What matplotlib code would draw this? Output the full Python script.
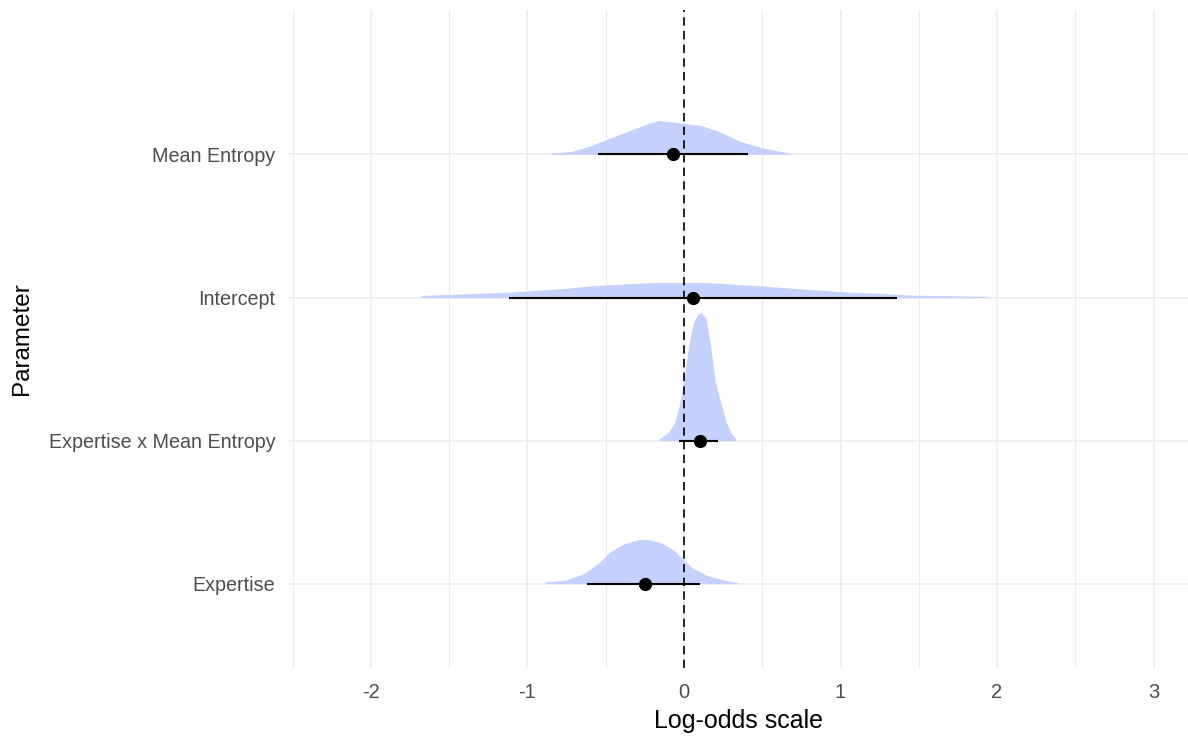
import matplotlib.pyplot as plt
import numpy as np

plt.rcParams['font.family'] = ['Liberation Sans', 'DejaVu Sans']

# parameter rows, bottom to top
params = ['Expertise', 'Expertise x Mean Entropy', 'Intercept', 'Mean Entropy']

# posterior median and 95% interval per parameter
medians = [-0.25, 0.10, 0.06, -0.07]
lower = [-0.62, -0.03, -1.12, -0.55]
upper = [0.10, 0.22, 1.36, 0.41]

# density outlines (x on log-odds scale, height in row units)
dens_x = [
    [-0.89, -0.76, -0.64, -0.55, -0.47, -0.38, -0.29, -0.23, -0.15, -0.06, 0.00, 0.06, 0.15, 0.24, 0.34],
    [-0.16, -0.10, -0.06, -0.03, 0.00, 0.03, 0.06, 0.09, 0.11, 0.14, 0.17, 0.20, 0.24, 0.27, 0.30, 0.33],
    [-1.68, -1.30, -1.08, -0.90, -0.75, -0.59, -0.41, -0.19, 0.14, 0.48, 0.69, 0.83, 1.01, 1.22, 1.48, 1.94],
    [-0.85, -0.72, -0.61, -0.48, -0.36, -0.23, -0.16, -0.05, 0.11, 0.24, 0.36, 0.49, 0.62, 0.68],
]
dens_h = [
    [0.012, 0.023, 0.070, 0.140, 0.224, 0.280, 0.308, 0.308, 0.287, 0.231, 0.161, 0.105, 0.056, 0.028, 0.007],
    [0.012, 0.056, 0.126, 0.245, 0.434, 0.664, 0.825, 0.885, 0.895, 0.860, 0.660, 0.406, 0.245, 0.126, 0.056, 0.010],
    [0.014, 0.030, 0.040, 0.054, 0.065, 0.082, 0.093, 0.105, 0.105, 0.082, 0.065, 0.054, 0.040, 0.030, 0.016, 0.008],
    [0.008, 0.021, 0.056, 0.112, 0.161, 0.217, 0.238, 0.224, 0.203, 0.154, 0.091, 0.049, 0.021, 0.007],
]

xticks = [-2, -1, 0, 1, 2, 3]
xtick_labels = ['-2', '-1', '0', '1', '2', '3']

fig = plt.figure(figsize=(11.88, 7.38), dpi=100)
ax = fig.add_axes([288 / 1188, 1 - 668 / 738, 900 / 1188, 658 / 738])

ypos = np.arange(1, len(params) + 1)
for i, y in enumerate(ypos):
    xs = np.array(dens_x[i])
    hs = np.array(dens_h[i])
    ax.fill_between(xs, y, y + hs, color='#C5D1FD', linewidth=0, zorder=2)
    ax.plot([lower[i], upper[i]], [y, y], color='black', lw=1.5, zorder=3, solid_capstyle='butt')
    ax.plot(medians[i], y, 'o', color='black', ms=8.5, zorder=4)

ax.axvline(0, color='black', lw=1.2, ls=(0, (5, 3.2)), zorder=5)

ax.set_xlim(-2.53, 3.22)
ax.set_ylim(0.41, 5.01)
ax.set_xticks(xticks)
ax.set_xticklabels(xtick_labels)
ax.set_xticks(np.arange(-2.5, 3.0, 1.0), minor=True)
ax.set_yticks(ypos)
ax.set_yticklabels(params)

ax.grid(True, which='major', color='#EBEBEB', lw=1.1, zorder=0)
ax.grid(True, which='minor', axis='x', color='#EBEBEB', lw=0.8, zorder=0)
ax.set_axisbelow(True)
for s in ax.spines.values():
    s.set_visible(False)
ax.tick_params(which='both', length=0)
ax.tick_params(axis='x', pad=11, labelsize=14.5, labelcolor='#4D4D4D')
ax.tick_params(axis='y', pad=9, labelsize=14.2, labelcolor='#4D4D4D')

ax.set_xlabel('Log-odds scale', fontsize=18, labelpad=5)
ax.set_ylabel('Parameter', fontsize=17.5)
ax.yaxis.set_label_coords(-0.283, 0.5)

fig.savefig('out.png', dpi=100)
